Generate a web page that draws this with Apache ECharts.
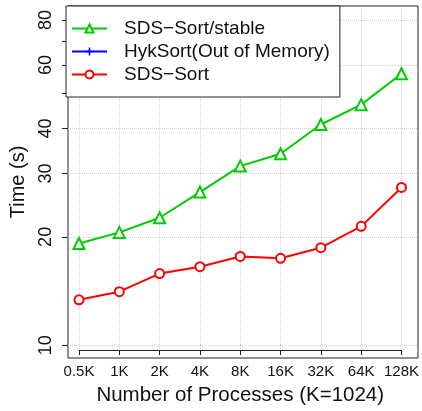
<!DOCTYPE html>
<html>
<head>
<meta charset="utf-8">
<script src="https://cdn.jsdelivr.net/npm/echarts@6/dist/echarts.min.js"></script>
<style>
  html, body { margin: 0; padding: 0; background: #fff; }
  #chart { width: 422px; height: 411px; }
</style>
</head>
<body>
<div id="chart"></div>
<script>
// categories on the x axis
const processes = ["0.5K", "1K", "2K", "4K", "8K", "16K", "32K", "64K", "128K"];

// times in seconds
const sdsSortStable = [18.5, 19.9, 21.9, 25.9, 30.7, 33.3, 40.3, 45.9, 56.2];
const hykSort = [null, null, null, null, null, null, null, null, null]; // out of memory
const sdsSort = [12.8, 13.5, 15.2, 15.9, 17.0, 16.8, 18.0, 20.7, 26.7];

// y axis (log scale)
const yTicks = [10, 20, 30, 40, 50, 60, 70, 80];
const yLabels = [10, 20, 30, 40, 60, 80];
const yMin = 9.22;
const yMax = 87.5;

const font = "Liberation Sans, Arial, Helvetica, sans-serif";
const axisColor = "#222";
const gridLineColor = "#d0d0d0";

const chart = echarts.init(document.getElementById("chart"));

const option = {
  backgroundColor: "#fff",
  animation: false,
  textStyle: { fontFamily: font },
  legend: {
    orient: "vertical",
    left: 66,
    top: 6,
    padding: [13, 10, 13, 5],
    itemWidth: 35,
    itemHeight: 10,
    itemGap: 4,
    backgroundColor: "#fff",
    borderColor: axisColor,
    borderWidth: 1,
    borderRadius: 0,
    textStyle: {
      fontFamily: font,
      fontSize: 19,
      lineHeight: 19,
      color: "#111",
      padding: [0, 0, 0, 12]
    },
    data: ["SDS\u2212Sort/stable", "HykSort(Out of Memory)", "SDS\u2212Sort"]
  },
  grid: [
    // frame of the plot
    { left: 66, top: 6, width: 352, height: 352, show: true, borderColor: axisColor, borderWidth: 1, backgroundColor: "transparent" },
    // data area: first and last category sit inside the frame
    { left: 79, top: 6, width: 326, height: 352, show: false }
  ],
  xAxis: [
    { gridIndex: 0, type: "value", show: false, min: 0, max: 1 },
    {
      gridIndex: 1,
      type: "category",
      data: processes,
      boundaryGap: false,
      name: "Number of Processes (K=1024)",
      nameLocation: "middle",
      nameGap: 35,
      nameTextStyle: { fontFamily: font, fontSize: 20.5, color: "#111" },
      axisLine: { show: true, lineStyle: { color: axisColor, width: 1 } },
      axisTick: { show: true, length: 5, lineStyle: { color: axisColor } },
      axisLabel: { fontFamily: font, fontSize: 15, color: "#111", margin: 14, interval: 0 },
      splitLine: { show: true, lineStyle: { color: gridLineColor, type: "dotted", width: 1 } }
    }
  ],
  yAxis: [
    {
      gridIndex: 0,
      type: "log",
      logBase: 10,
      min: yMin,
      max: yMax,
      name: "Time (s)",
      nameLocation: "middle",
      nameGap: 40,
      nameTextStyle: { fontFamily: font, fontSize: 20, color: "#111" },
      axisLine: { show: false },
      axisTick: { show: true, length: 6, customValues: yTicks, lineStyle: { color: axisColor } },
      axisLabel: {
        customValues: yLabels,
        rotate: 90,
        fontFamily: font,
        fontSize: 18,
        color: "#111",
        margin: 13
      },
      splitLine: { show: false }
    },
    {
      // horizontal dotted grid lines at labelled values
      gridIndex: 0,
      type: "log",
      logBase: 10,
      min: yMin,
      max: yMax,
      axisLine: { show: false },
      axisTick: { show: false, customValues: yLabels },
      axisLabel: { show: false, customValues: yLabels },
      splitLine: { show: true, lineStyle: { color: gridLineColor, type: "dotted", width: 1 } }
    },
    {
      gridIndex: 1,
      type: "log",
      logBase: 10,
      min: yMin,
      max: yMax,
      show: false,
      splitLine: { show: false }
    }
  ],
  series: [
    {
      name: "SDS\u2212Sort/stable",
      type: "line",
      xAxisIndex: 1,
      yAxisIndex: 2,
      data: sdsSortStable,
      symbol: "emptyTriangle",
      symbolSize: 11,
      lineStyle: { color: "#00cc00", width: 2 },
      itemStyle: { color: "#00cc00", borderWidth: 1.5 }
    },
    {
      name: "HykSort(Out of Memory)",
      type: "line",
      xAxisIndex: 1,
      yAxisIndex: 2,
      data: hykSort,
      symbol: "path://M4,0H6V4H10V6H6V10H4V6H0V4H4Z",
      symbolSize: 10,
      lineStyle: { color: "#0000ff", width: 2 },
      itemStyle: { color: "#0000ff" }
    },
    {
      name: "SDS\u2212Sort",
      type: "line",
      xAxisIndex: 1,
      yAxisIndex: 2,
      data: sdsSort,
      symbol: "emptyCircle",
      symbolSize: 9,
      lineStyle: { color: "#ff0000", width: 2 },
      itemStyle: { color: "#ff0000", borderWidth: 1.5 }
    }
  ]
};

chart.setOption(option);
window.addEventListener("resize", () => chart.resize());
</script>
</body>
</html>
